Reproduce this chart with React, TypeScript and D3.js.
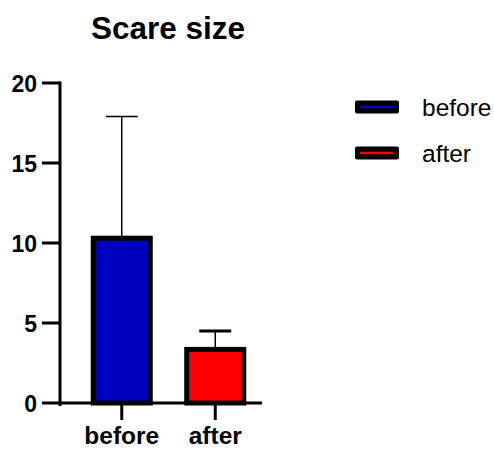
import React from "react";
import * as d3 from "d3";

const categories = ["before", "after"];
const means = [10.3, 3.35];
const errUpper = [17.9, 4.5];
const colors = ["#0000C0", "#FF0000"];
const yTicks = [0, 5, 10, 15, 20];
const title = "Scare size";

export default function App() {
  const W = 494, H = 449;
  const y = d3.scaleLinear().domain([0, 20]).range([403, 83]);
  const x = d3.scaleBand().domain(categories).range([75, 262]).paddingInner(0.39).paddingOuter(0.195);
  const bw = x.bandwidth();
  const font = "'Liberation Sans', Arial, Helvetica, sans-serif";
  return (
    <svg width={W} height={H} style={{ position: "absolute", left: 0, top: 0 }} fontFamily={font}>
      <rect width={W} height={H} fill="#fff" />
      <text x={168} y={39} textAnchor="middle" fontSize={31.5} fontWeight="bold">{title}</text>
      {categories.map((c, i) => {
        const cx = (x(c) as number) + bw / 2;
        return (
          <g key={c}>
            <line x1={cx} x2={cx} y1={y(errUpper[i])} y2={y(means[i])} stroke="#000" strokeWidth={1.5} />
            <line x1={cx - 16} x2={cx + 16} y1={y(errUpper[i])} y2={y(errUpper[i])} stroke="#000" strokeWidth={i === 0 ? 1.5 : 3} />
            <rect x={x(c)} y={y(means[i])} width={bw} height={y(0) - y(means[i])} fill={colors[i]} stroke="#000" strokeWidth={5} />
          </g>
        );
      })}
      {/* axes */}
      <line x1={60} x2={60} y1={y(20) - 1.5} y2={406} stroke="#000" strokeWidth={3} />
      <line x1={58.5} x2={262} y1={y(0)} y2={y(0)} stroke="#000" strokeWidth={3} />
      {yTicks.map((t) => (
        <g key={t}>
          <line x1={42} x2={60} y1={y(t)} y2={y(t)} stroke="#000" strokeWidth={3} />
          <text x={37} y={y(t) + 8.5} textAnchor="end" fontSize={23} fontWeight="bold">{t}</text>
        </g>
      ))}
      {categories.map((c) => {
        const cx = (x(c) as number) + bw / 2;
        return (
          <g key={c}>
            <line x1={cx} x2={cx} y1={y(0)} y2={420} stroke="#000" strokeWidth={3} />
            <text x={cx} y={444} textAnchor="middle" fontSize={24.5} fontWeight="bold">{c}</text>
          </g>
        );
      })}
      {/* legend */}
      {categories.map((c, i) => {
        const ly = 107 + i * 46;
        return (
          <g key={c}>
            <rect x={355} y={ly - 6.5} width={44} height={13} rx={2} fill="#000" />
            <line x1={360} x2={393} y1={ly} y2={ly} stroke={colors[i]} strokeWidth={2.5} />
            <text x={422} y={ly + 9} fontSize={24.5}>{c}</text>
          </g>
        );
      })}
    </svg>
  );
}
